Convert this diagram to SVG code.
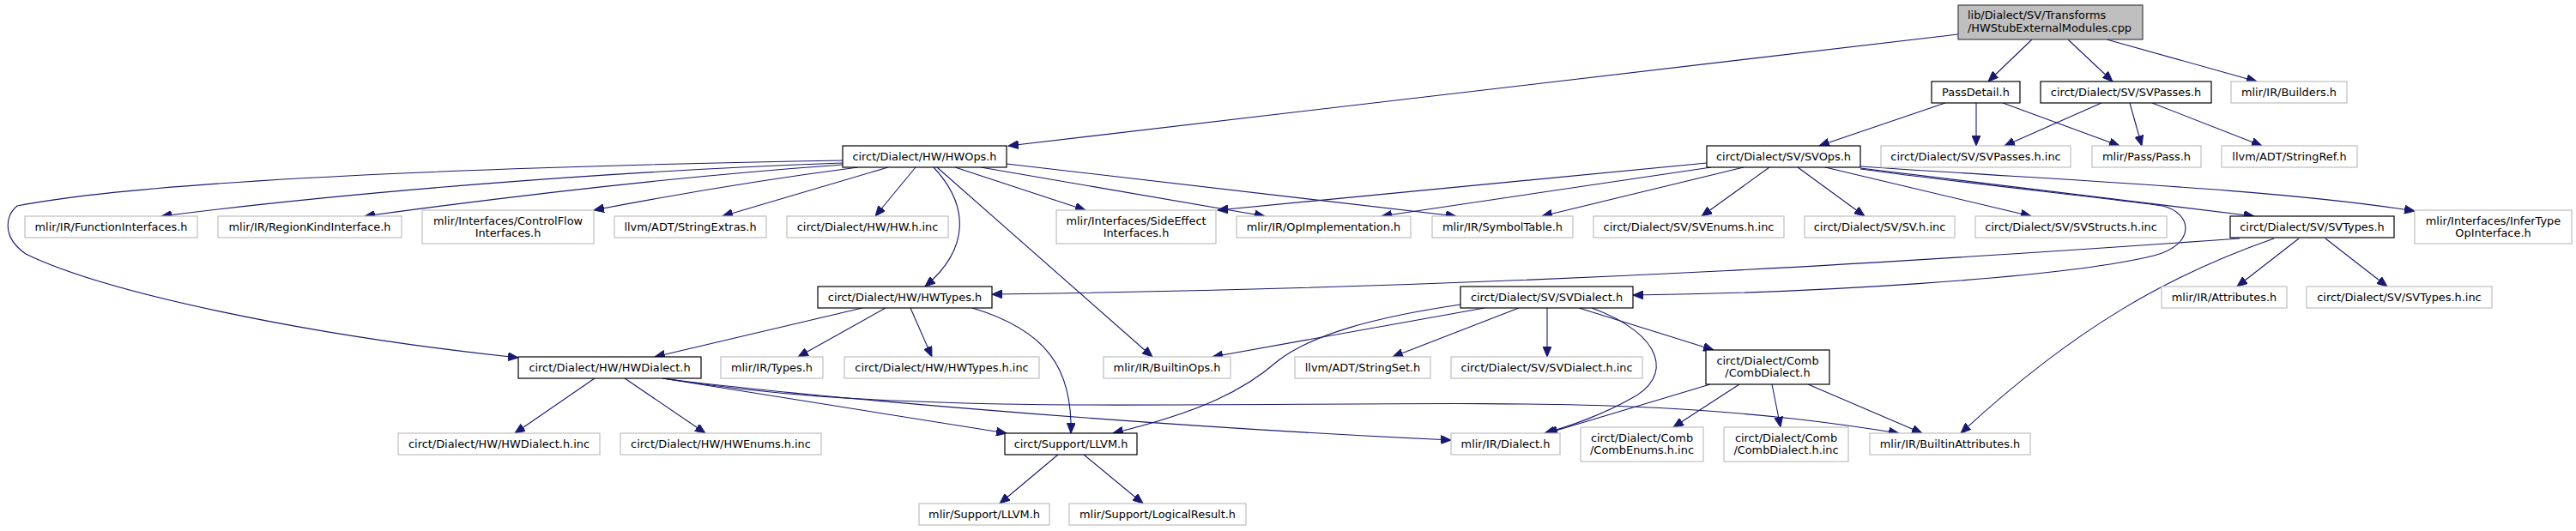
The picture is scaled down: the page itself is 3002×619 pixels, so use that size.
<svg xmlns="http://www.w3.org/2000/svg" width="3002" height="619" viewBox="0 0 3002 619">
<style>
.n rect{fill:#fff;stroke:#000;stroke-width:1.2}
.g rect{fill:#fff;stroke:#bfbfbf;stroke-width:1.2}
.r rect{fill:#bfbfbf;stroke:#404040;stroke-width:1.2}
text{font-family:"DejaVu Sans",sans-serif;font-size:12.9px;fill:#000;text-anchor:middle}
.r text{text-anchor:start}
#edges path{fill:none;stroke:#191970;stroke-width:1.1;marker-end:url(#ah)}
</style>
<defs>
<marker id="ah" markerWidth="13" markerHeight="10" refX="12" refY="5" orient="auto" markerUnits="userSpaceOnUse">
<path d="M0,0 L12,5 L0,10 z" fill="#191970" stroke="#191970" stroke-width="1"/>
</marker>
</defs>
<rect width="3002" height="619" fill="#fff"/>
<g id="edges">
<path d="M2282,40 L1175,170"/>
<path d="M2368,46 L2317,95"/>
<path d="M2410,46 L2462,95"/>
<path d="M2455,46 L2630,95"/>
<path d="M2267,120 L2120,170"/>
<path d="M2303,120 L2303,170"/>
<path d="M2334,120 L2470,170"/>
<path d="M2449,120 L2336,170"/>
<path d="M2482,120 L2496,170"/>
<path d="M2508,120 L2636,170"/>
<path d="M982,187 C700,192 200,205 20,240 C8,250 0,275 30,296 C120,340 350,390 604,417"/>
<path d="M982,190 C700,200 400,225 188,252"/>
<path d="M982,192 C800,205 600,228 425,252"/>
<path d="M1000,195 C900,208 780,228 692,245"/>
<path d="M1035,195 L842,252"/>
<path d="M1067,195 L1020,252"/>
<path d="M1088,195 C1130,240 1130,290 1078,334"/>
<path d="M1092,195 L1343,416"/>
<path d="M1113,195 L1265,245"/>
<path d="M1143,195 L1474,252"/>
<path d="M1173,191 L1697,252"/>
<path d="M1989,190 L1419,245"/>
<path d="M1994,195 L1610,252"/>
<path d="M2032,195 L1797,252"/>
<path d="M2062,195 L1983,252"/>
<path d="M2095,195 L2173,252"/>
<path d="M2127,195 L2367,252"/>
<path d="M2168,194 C2400,210 2650,220 2814,246"/>
<path d="M2168,196 L2627,252"/>
<path d="M2168,197 C2300,215 2450,230 2520,240 C2555,248 2560,285 2510,298 C2400,325 2100,342 1903,344"/>
<path d="M2610,278 C2300,300 1800,335 1156,343"/>
<path d="M2650,278 C2530,320 2420,380 2285,505"/>
<path d="M2679,278 L2607,334"/>
<path d="M2710,278 L2782,334"/>
<path d="M1005,359 L763,416"/>
<path d="M1032,359 L930,416"/>
<path d="M1061,359 L1086,416"/>
<path d="M1133,359 C1220,385 1250,430 1248,505"/>
<path d="M693,441 L600,505"/>
<path d="M728,441 L822,505"/>
<path d="M772,441 L1173,505"/>
<path d="M772,441 C900,458 1300,495 1691,513"/>
<path d="M772,441 C880,458 1000,470 1250,472 C1500,473 1750,467 1900,474 C2050,480 2150,495 2213,505"/>
<path d="M1233,530 L1165,587"/>
<path d="M1263,530 L1332,587"/>
<path d="M1730,359 L1413,416"/>
<path d="M1702,355 C1600,370 1530,390 1490,420 C1450,455 1400,480 1297,505"/>
<path d="M1770,359 L1623,416"/>
<path d="M1803,359 L1803,416"/>
<path d="M1840,359 L1997,408"/>
<path d="M1855,359 C1940,390 1950,440 1900,465 C1870,482 1830,497 1800,505"/>
<path d="M1993,448 L1803,505"/>
<path d="M2027,448 L1950,498"/>
<path d="M2065,448 L2075,498"/>
<path d="M2107,448 L2240,505"/>
</g>
<g id="root" class="r"><rect x="2282" y="6" width="215" height="40"/><text x="2293" y="21.5">lib/Dialect/SV/Transforms</text><text x="2293" y="36.5">/HWStubExternalModules.cpp</text></g>
<g id="passdetail" class="n"><rect x="2251" y="95" width="103" height="25"/><text x="2302.5" y="112">PassDetail.h</text></g>
<g id="svpasses" class="n"><rect x="2378" y="95" width="199" height="25"/><text x="2477.5" y="112">circt/Dialect/SV/SVPasses.h</text></g>
<g id="builders" class="g"><rect x="2600" y="95" width="135" height="25"/><text x="2667.5" y="112">mlir/IR/Builders.h</text></g>
<g id="hwops" class="n"><rect x="982" y="170" width="191" height="25"/><text x="1077.5" y="187">circt/Dialect/HW/HWOps.h</text></g>
<g id="svops" class="n"><rect x="1989" y="170" width="179" height="25"/><text x="2078.5" y="187">circt/Dialect/SV/SVOps.h</text></g>
<g id="svpassesinc" class="g"><rect x="2192" y="170" width="221" height="25"/><text x="2302.5" y="187">circt/Dialect/SV/SVPasses.h.inc</text></g>
<g id="pass" class="g"><rect x="2438" y="170" width="127" height="25"/><text x="2501.5" y="187">mlir/Pass/Pass.h</text></g>
<g id="stringref" class="g"><rect x="2589" y="170" width="158" height="25"/><text x="2668" y="187">llvm/ADT/StringRef.h</text></g>
<g id="funcif" class="g"><rect x="29" y="252" width="201" height="25"/><text x="129.5" y="268.5">mlir/IR/FunctionInterfaces.h</text></g>
<g id="regionkind" class="g"><rect x="254" y="252" width="214" height="25"/><text x="361" y="268.5">mlir/IR/RegionKindInterface.h</text></g>
<g id="controlflow" class="g"><rect x="492" y="245" width="200" height="39"/><text x="592" y="262">mlir/Interfaces/ControlFlow</text><text x="592" y="276">Interfaces.h</text></g>
<g id="stringextras" class="g"><rect x="716" y="252" width="177" height="25"/><text x="804.5" y="268.5">llvm/ADT/StringExtras.h</text></g>
<g id="hwinc" class="g"><rect x="917" y="252" width="188" height="25"/><text x="1011" y="268.5">circt/Dialect/HW/HW.h.inc</text></g>
<g id="sideeffect" class="g"><rect x="1231" y="245" width="186" height="39"/><text x="1324" y="262">mlir/Interfaces/SideEffect</text><text x="1324" y="276">Interfaces.h</text></g>
<g id="opimpl" class="g"><rect x="1441" y="252" width="203" height="25"/><text x="1542.5" y="268.5">mlir/IR/OpImplementation.h</text></g>
<g id="symtab" class="g"><rect x="1669" y="252" width="164" height="25"/><text x="1751" y="268.5">mlir/IR/SymbolTable.h</text></g>
<g id="svenums" class="g"><rect x="1857" y="252" width="222" height="25"/><text x="1968" y="268.5">circt/Dialect/SV/SVEnums.h.inc</text></g>
<g id="svinc" class="g"><rect x="2103" y="252" width="175" height="25"/><text x="2190.5" y="268.5">circt/Dialect/SV/SV.h.inc</text></g>
<g id="svstructs" class="g"><rect x="2302" y="252" width="223" height="25"/><text x="2413.5" y="268.5">circt/Dialect/SV/SVStructs.h.inc</text></g>
<g id="svtypes" class="n"><rect x="2599" y="252" width="191" height="25"/><text x="2694.5" y="268.5">circt/Dialect/SV/SVTypes.h</text></g>
<g id="infertype" class="g"><rect x="2814" y="245" width="183" height="39"/><text x="2905.5" y="262">mlir/Interfaces/InferType</text><text x="2905.5" y="276">OpInterface.h</text></g>
<g id="hwtypes" class="n"><rect x="953" y="334" width="203" height="25"/><text x="1054.5" y="350.5">circt/Dialect/HW/HWTypes.h</text></g>
<g id="svdialect" class="n"><rect x="1702" y="334" width="201" height="25"/><text x="1802.5" y="350.5">circt/Dialect/SV/SVDialect.h</text></g>
<g id="attributes" class="g"><rect x="2519" y="334" width="146" height="25"/><text x="2592" y="350.5">mlir/IR/Attributes.h</text></g>
<g id="svtypesinc" class="g"><rect x="2688" y="334" width="216" height="25"/><text x="2796" y="350.5">circt/Dialect/SV/SVTypes.h.inc</text></g>
<g id="hwdialect" class="n"><rect x="604" y="416" width="213" height="25"/><text x="710.5" y="432.5">circt/Dialect/HW/HWDialect.h</text></g>
<g id="types" class="g"><rect x="840" y="416" width="119" height="25"/><text x="899.5" y="432.5">mlir/IR/Types.h</text></g>
<g id="hwtypesinc" class="g"><rect x="984" y="416" width="227" height="25"/><text x="1097.5" y="432.5">circt/Dialect/HW/HWTypes.h.inc</text></g>
<g id="builtinops" class="g"><rect x="1286" y="416" width="148" height="25"/><text x="1360" y="432.5">mlir/IR/BuiltinOps.h</text></g>
<g id="stringset" class="g"><rect x="1509" y="416" width="158" height="25"/><text x="1588" y="432.5">llvm/ADT/StringSet.h</text></g>
<g id="svdialectinc" class="g"><rect x="1691" y="416" width="223" height="25"/><text x="1802.5" y="432.5">circt/Dialect/SV/SVDialect.h.inc</text></g>
<g id="combdialect" class="n"><rect x="1988" y="408" width="144" height="40"/><text x="2060" y="425">circt/Dialect/Comb</text><text x="2060" y="439">/CombDialect.h</text></g>
<g id="hwdialectinc" class="g"><rect x="464" y="505" width="235" height="25"/><text x="581.5" y="521.5">circt/Dialect/HW/HWDialect.h.inc</text></g>
<g id="hwenums" class="g"><rect x="723" y="505" width="234" height="25"/><text x="840" y="521.5">circt/Dialect/HW/HWEnums.h.inc</text></g>
<g id="llvm" class="n"><rect x="1171" y="505" width="154" height="25"/><text x="1248" y="521.5">circt/Support/LLVM.h</text></g>
<g id="dialect" class="g"><rect x="1691" y="505" width="127" height="25"/><text x="1754.5" y="521.5">mlir/IR/Dialect.h</text></g>
<g id="combenums" class="g"><rect x="1842" y="498" width="143" height="40"/><text x="1913.5" y="515">circt/Dialect/Comb</text><text x="1913.5" y="529">/CombEnums.h.inc</text></g>
<g id="combinc" class="g"><rect x="2009" y="498" width="145" height="40"/><text x="2081.5" y="515">circt/Dialect/Comb</text><text x="2081.5" y="529">/CombDialect.h.inc</text></g>
<g id="builtinattrs" class="g"><rect x="2179" y="505" width="187" height="25"/><text x="2272.5" y="521.5">mlir/IR/BuiltinAttributes.h</text></g>
<g id="mlirllvm" class="g"><rect x="1071" y="587" width="152" height="25"/><text x="1147" y="603.5">mlir/Support/LLVM.h</text></g>
<g id="logical" class="g"><rect x="1246" y="587" width="206" height="25"/><text x="1349" y="603.5">mlir/Support/LogicalResult.h</text></g>
</svg>
